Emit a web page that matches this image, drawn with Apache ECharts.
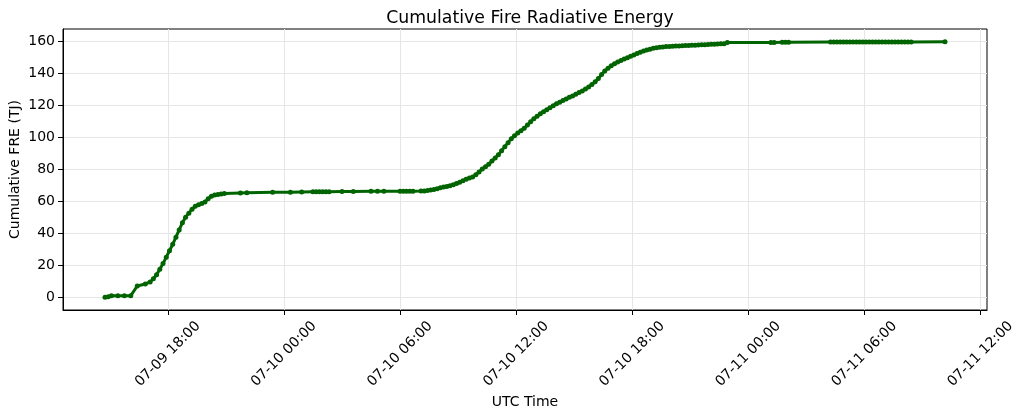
<!DOCTYPE html>
<html>
<head>
<meta charset="utf-8">
<script src="https://cdn.jsdelivr.net/npm/echarts@6/dist/echarts.min.js"></script>
<style>
  html, body { margin: 0; padding: 0; background: #fff; }
  #main { width: 1024px; height: 418px; }
</style>
</head>
<body>
<div id="main"></div>
<script>
// observation times (UTC, MM-DD HH:MM) and cumulative FRE in TJ
var times = [
  '07-09 14:45', '07-09 14:55', '07-09 15:05', '07-09 15:25', '07-09 15:45', '07-09 16:05',
  '07-09 16:25', '07-09 16:50', '07-09 17:05', '07-09 17:15', '07-09 17:25', '07-09 17:35',
  '07-09 17:45', '07-09 17:55', '07-09 18:05', '07-09 18:15', '07-09 18:25', '07-09 18:35',
  '07-09 18:45', '07-09 18:55', '07-09 19:05', '07-09 19:15', '07-09 19:25', '07-09 19:35',
  '07-09 19:45', '07-09 19:55', '07-09 20:05', '07-09 20:15', '07-09 20:25', '07-09 20:35',
  '07-09 20:45', '07-09 20:55', '07-09 21:45', '07-09 22:05', '07-09 23:25', '07-10 00:20',
  '07-10 00:55', '07-10 01:30', '07-10 01:40', '07-10 01:50', '07-10 02:00', '07-10 02:10',
  '07-10 02:20', '07-10 03:00', '07-10 03:35', '07-10 04:30', '07-10 04:50', '07-10 05:10',
  '07-10 06:00', '07-10 06:10', '07-10 06:20', '07-10 06:30', '07-10 06:40', '07-10 07:05',
  '07-10 07:15', '07-10 07:25', '07-10 07:35', '07-10 07:45', '07-10 07:55', '07-10 08:05',
  '07-10 08:15', '07-10 08:25', '07-10 08:35', '07-10 08:45', '07-10 08:55', '07-10 09:05',
  '07-10 09:15', '07-10 09:25', '07-10 09:35', '07-10 09:45', '07-10 09:55', '07-10 10:05',
  '07-10 10:15', '07-10 10:25', '07-10 10:35', '07-10 10:45', '07-10 10:55', '07-10 11:05',
  '07-10 11:15', '07-10 11:25', '07-10 11:35', '07-10 11:45', '07-10 11:55', '07-10 12:05',
  '07-10 12:15', '07-10 12:25', '07-10 12:35', '07-10 12:45', '07-10 12:55', '07-10 13:05',
  '07-10 13:15', '07-10 13:25', '07-10 13:35', '07-10 13:45', '07-10 13:55', '07-10 14:05',
  '07-10 14:15', '07-10 14:25', '07-10 14:35', '07-10 14:45', '07-10 14:55', '07-10 15:05',
  '07-10 15:15', '07-10 15:25', '07-10 15:35', '07-10 15:45', '07-10 15:55', '07-10 16:05',
  '07-10 16:15', '07-10 16:25', '07-10 16:35', '07-10 16:45', '07-10 16:55', '07-10 17:05',
  '07-10 17:15', '07-10 17:25', '07-10 17:35', '07-10 17:45', '07-10 17:55', '07-10 18:05',
  '07-10 18:15', '07-10 18:25', '07-10 18:35', '07-10 18:45', '07-10 18:55', '07-10 19:05',
  '07-10 19:15', '07-10 19:25', '07-10 19:35', '07-10 19:45', '07-10 19:55', '07-10 20:05',
  '07-10 20:15', '07-10 20:25', '07-10 20:35', '07-10 20:45', '07-10 20:55', '07-10 21:05',
  '07-10 21:15', '07-10 21:25', '07-10 21:35', '07-10 21:45', '07-10 21:55', '07-10 22:05',
  '07-10 22:15', '07-10 22:25', '07-10 22:35', '07-10 22:45', '07-10 22:55', '07-11 01:10',
  '07-11 01:20', '07-11 01:45', '07-11 01:55', '07-11 02:05', '07-11 04:15', '07-11 04:25',
  '07-11 04:35', '07-11 04:45', '07-11 04:55', '07-11 05:05', '07-11 05:15', '07-11 05:25',
  '07-11 05:35', '07-11 05:45', '07-11 05:55', '07-11 06:05', '07-11 06:15', '07-11 06:25',
  '07-11 06:35', '07-11 06:45', '07-11 06:55', '07-11 07:05', '07-11 07:15', '07-11 07:25',
  '07-11 07:35', '07-11 07:45', '07-11 07:55', '07-11 08:05', '07-11 08:15', '07-11 08:25',
  '07-11 10:10'
];
var fre = [
  0.0, 0.3, 1.0, 1.0, 1.0, 1.0,
  7.0, 8.3, 9.5, 11.5, 14.0, 17.5,
  21.0, 25.0, 29.0, 33.0, 37.5, 42.0,
  46.5, 50.0, 52.5, 55.0, 56.8, 57.8,
  58.5, 59.5, 61.5, 63.0, 63.8, 64.2,
  64.5, 64.8, 65.1, 65.2, 65.5, 65.6,
  65.7, 65.8, 65.8, 65.8, 65.9, 65.9,
  65.9, 66.0, 66.0, 66.1, 66.1, 66.1,
  66.2, 66.2, 66.2, 66.2, 66.2, 66.3,
  66.4, 66.6, 66.9, 67.3, 67.8, 68.3,
  68.8, 69.2, 69.6, 70.2, 71.0, 71.8,
  72.8, 73.7, 74.4, 75.0, 76.5, 78.2,
  80.0, 81.5, 83.0, 85.0, 87.0, 89.0,
  91.5, 94.0, 96.5, 99.0, 100.8, 102.5,
  104.0, 105.5, 107.5, 109.5, 111.5, 113.0,
  114.5, 115.8, 117.0, 118.3, 119.6, 120.8,
  121.8, 122.8, 123.8, 124.8, 125.7, 126.8,
  127.8, 128.8, 130.0, 131.3, 132.8, 134.5,
  136.5, 139.0, 141.3, 143.0, 144.5, 145.7,
  146.8, 147.8, 148.7, 149.5, 150.4, 151.3,
  152.2, 153.0, 153.7, 154.3, 154.9, 155.4,
  155.8, 156.1, 156.3, 156.5, 156.6, 156.7,
  156.8, 156.9, 157.0, 157.1, 157.2, 157.3,
  157.4, 157.5, 157.6, 157.7, 157.8, 157.9,
  158.0, 158.1, 158.2, 158.3, 159.0, 159.1,
  159.1, 159.2, 159.2, 159.2, 159.3, 159.3,
  159.3, 159.3, 159.3, 159.3, 159.3, 159.4,
  159.4, 159.4, 159.4, 159.4, 159.4, 159.4,
  159.4, 159.4, 159.4, 159.4, 159.4, 159.4,
  159.4, 159.4, 159.4, 159.4, 159.4, 159.4,
  159.5
];
var xTickLabels = ['07-09 18:00', '07-10 00:00', '07-10 06:00', '07-10 12:00',
                   '07-10 18:00', '07-11 00:00', '07-11 06:00', '07-11 12:00'];
var yTicks = [0, 20, 40, 60, 80, 100, 120, 140, 160];

// hours since 07-10 00:00 UTC
function toHours(s) {
  var day = parseInt(s.slice(3, 5), 10);
  var hh = parseInt(s.slice(6, 8), 10);
  var mm = parseInt(s.slice(9, 11), 10);
  return (day - 10) * 24 + hh + mm / 60;
}

var xs = times.map(toHours);
var data = xs.map(function (x, i) { return [x, fre[i]]; });
var xTicks = xTickLabels.map(toHours);

// matplotlib-like 5% margins
var xMinD = Math.min.apply(null, xs), xMaxD = Math.max.apply(null, xs);
var yMinD = Math.min.apply(null, fre), yMaxD = Math.max.apply(null, fre);
var xPad = (xMaxD - xMinD) * 0.05, yPad = (yMaxD - yMinD) * 0.05;

var font = 'DejaVu Sans';
var chart = echarts.init(document.getElementById('main'), null, { renderer: 'canvas' });

var option = {
  animation: false,
  title: {
    text: 'Cumulative Fire Radiative Energy',
    left: 525,
    top: 5,
    textAlign: 'center',
    textStyle: { fontFamily: font, fontSize: 17.3, fontWeight: 'normal', color: '#000' }
  },
  grid: {
    left: 63,
    right: 37,
    top: 29,
    bottom: 108,
    show: true,
    borderColor: '#000',
    borderWidth: 1,
    outerBoundsMode: 'none'
  },
  xAxis: {
    type: 'value',
    min: xMinD - xPad,
    max: xMaxD + xPad,
    name: 'UTC Time',
    nameLocation: 'middle',
    nameGap: 85,
    nameMoveOverlap: false,
    nameTextStyle: { fontFamily: font, fontSize: 14, color: '#000' },
    axisLine: { show: true, onZero: false, lineStyle: { color: '#000', width: 1 } },
    axisTick: { show: true, length: 5, customValues: xTicks, lineStyle: { color: '#000' } },
    axisLabel: {
      customValues: xTicks,
      rotate: 45,
      align: 'center',
      verticalAlign: 'middle',
      margin: 44,
      fontFamily: font,
      fontSize: 14,
      color: '#000',
      formatter: function (v) {
        for (var i = 0; i < xTicks.length; i++) {
          if (Math.abs(xTicks[i] - v) < 1e-6) return xTickLabels[i];
        }
        return '';
      }
    },
    splitLine: { show: true, lineStyle: { color: '#e6e6e6', width: 1 } }
  },
  yAxis: {
    type: 'value',
    min: yMinD - yPad,
    max: yMaxD + yPad,
    name: 'Cumulative FRE (TJ)',
    nameLocation: 'middle',
    nameGap: 41,
    nameMoveOverlap: false,
    nameTextStyle: { fontFamily: font, fontSize: 14, color: '#000' },
    axisLine: { show: true, onZero: false, lineStyle: { color: '#000', width: 1 } },
    axisTick: { show: true, length: 5, customValues: yTicks, lineStyle: { color: '#000' } },
    axisLabel: {
      customValues: yTicks,
      margin: 8,
      fontFamily: font,
      fontSize: 14,
      color: '#000'
    },
    splitLine: { show: true, lineStyle: { color: '#e6e6e6', width: 1 } }
  },
  series: [
    {
      type: 'line',
      data: data,
      symbol: 'circle',
      symbolSize: 5,
      showAllSymbol: true,
      itemStyle: { color: '#006400' },
      lineStyle: { color: '#006400', width: 3 },
      z: 5
    }
  ]
};

chart.setOption(option);
</script>
</body>
</html>
